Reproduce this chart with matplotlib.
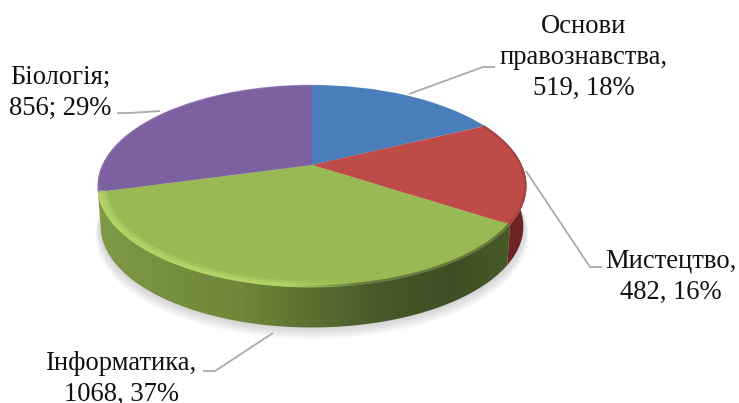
import numpy as np
import matplotlib
matplotlib.use("Agg")
import matplotlib.pyplot as plt
from matplotlib.transforms import Transform
from matplotlib.path import Path
from matplotlib.patches import PathPatch
from matplotlib.collections import LineCollection
from matplotlib.colors import LinearSegmentedColormap, to_rgb

subjects = ["Основи правознавства", "Мистецтво", "Інформатика", "Біологія"]
values = [519, 482, 1068, 856]
percents = [18, 16, 37, 29]
top_colors = ["#4A7EBB", "#BE4B48", "#98B954", "#7D60A0"]
red_wall = ["#7A2A28", "#8A2E2C", "#6A2020", "#6E2422"]
green_wall = ["#7E9A48", "#75903F", "#6E8738", "#5A7030", "#46592A", "#3F4F24", "#4A5C28"]

plt.rcParams["font.family"] = ["Liberation Serif", "DejaVu Serif"]
W, H = 739, 403
fig = plt.figure(figsize=(W / 100, H / 100), dpi=100)
ax = fig.add_axes([0, 0, 1, 1])

CX, CY, A, C, B = 312.0, 165.0, 96.6, 209.8, 0.208
DEPTH, SHRINK = 40.5, 0.985


def project(u, v):
    den = 1 + B * v
    return CX + C * u / den, CY - A * v / den


class Perspective(Transform):
    input_dims = output_dims = 2
    is_affine = False
    has_inverse = False

    def transform_non_affine(self, pts):
        pts = np.asarray(pts, float)
        x, y = project(pts[:, 0], pts[:, 1])
        return np.column_stack([x, y])


def lower(x, y):
    return CX + (x - CX) * SHRINK, y + DEPTH


wedges, _ = ax.pie(values, colors=top_colors, startangle=90, counterclock=False,
                   wedgeprops=dict(linewidth=0))
ax.set_aspect("auto")
ax.set_xlim(0, W)
ax.set_ylim(H, 0)
ax.axis("off")

persp = Perspective()
for w in wedges:
    w.set_transform(persp + ax.transData)
    w.set_zorder(5)
    w.set_clip_on(False)

# soft shadow below the disc
t = np.linspace(0, 2 * np.pi, 360)
sx, sy = project(np.cos(t), np.sin(t))
lx, ly = lower(sx, sy)
for k in range(9, 0, -1):
    g = 1 + 0.0028 * k
    px = CX + (lx - CX) * g
    py = (ly - 225) * g + 225 + 1.0 * k
    ax.fill(px, py, color="#8C8C8C", alpha=0.045, lw=0, zorder=1)

# extruded side wall of the two front slices
grad = np.linspace(0, 1, 400)[None, :]
for w, cols in [(wedges[1], red_wall), (wedges[2], green_wall)]:
    th = np.radians(np.linspace(w.theta1, w.theta2, 200))
    ax_, ay_ = project(np.cos(th), np.sin(th))
    bx, by = lower(ax_, ay_)
    poly = np.column_stack([np.r_[ax_, bx[::-1]], np.r_[ay_, by[::-1]]])
    clip = PathPatch(Path(np.vstack([poly, poly[0]]), closed=True), transform=ax.transData,
                     fc="none", ec="none")
    ax.add_patch(clip)
    cmap = LinearSegmentedColormap.from_list("w", cols)
    im = ax.imshow(grad, extent=(98, 527, 345, 120), cmap=cmap, aspect="auto", zorder=3)
    im.set_clip_path(clip)
ax.set_xlim(0, W)
ax.set_ylim(H, 0)

# bevel along the rim of the green slice
green = wedges[2]
th = np.radians(np.linspace(green.theta1, green.theta2, 260))
rgb0 = np.array(to_rgb("#B4D468"))
rgb1 = np.array(to_rgb("#98B954"))
rgb2 = np.array(to_rgb("#62783A"))
for r, lw, amax in [(0.972, 3.0, 0.2), (0.985, 2.4, 0.45), (0.995, 1.8, 0.8)]:
    x, y = project(r * np.cos(th), r * np.sin(th))
    pts = np.column_stack([x, y])
    segs = np.stack([pts[:-1], pts[1:]], axis=1)
    f = np.clip((x[:-1] - 290) / 70, 0, 1)
    base = rgb1 if r < 0.99 else rgb2
    cols = [(*(rgb0 * (1 - q) + base * q), amax) for q in f]
    ax.add_collection(LineCollection(segs, colors=cols, linewidths=lw, zorder=6, capstyle="round"))

# faint rim of the purple and red slices
for idx, col, lw, alpha in [(3, "#8F72B4", 1.2, 0.5), (1, "#96403C", 1.6, 0.6)]:
    w = wedges[idx]
    th = np.radians(np.linspace(w.theta1, w.theta2, 120))
    x, y = project(0.994 * np.cos(th), 0.994 * np.sin(th))
    ax.plot(x, y, color=col, lw=lw, alpha=alpha, zorder=6)

# labels and leader lines
LEAD = "#ABABAB"
leaders = [
    ((409, 483, 495), (94, 67, 67)),
    ((526, 590, 602), (171, 267, 267)),
    ((273, 215, 203), (333, 371, 371)),
    ((160, 130, 117), (111, 113, 113)),
]
for lxs, lys in leaders:
    ax.plot(lxs, lys, color=LEAD, lw=1.3, zorder=7, solid_capstyle="butt")

texts = [
    (584, 57.5, "Основи\nправознавства,\n%d, %d%%" % (values[0], percents[0])),
    (671, 277, "Мистецтво,\n%d, %d%%" % (values[1], percents[1])),
    (122, 379, "Інформатика,\n%d, %d%%" % (values[2], percents[2])),
    (60.5, 93, "Біологія;\n%d; %d%%" % (values[3], percents[3])),
]
for x, y, s in texts:
    ax.text(x, y, s, ha="center", va="center", fontsize=19.2, linespacing=1.33, color="#111111",
            zorder=8, clip_on=False)

fig.savefig("out.png", dpi=100)
